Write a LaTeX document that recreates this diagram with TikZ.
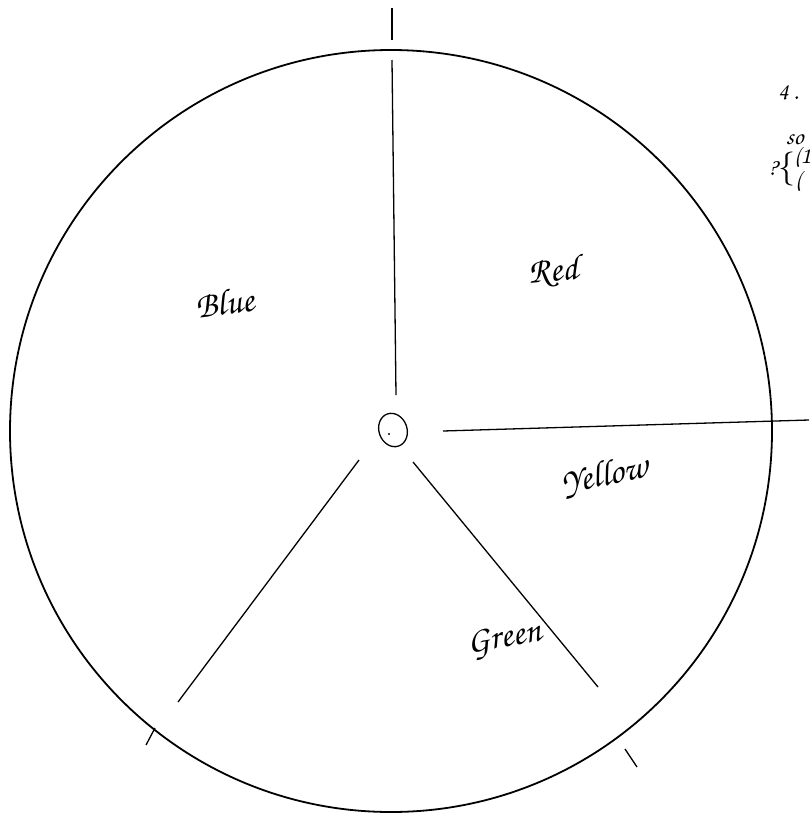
\documentclass[tikz,border=0pt]{standalone}
\usepackage[T1,TU]{fontenc}
\newcommand\handfont{\usefont{T1}{pzc}{mb}{it}}
\begin{document}
\begin{tikzpicture}[x=1pt,y=-1pt,
  rim/.style={line width=1.8pt},
  spoke/.style={line width=1.3pt},
  lbl/.style={font=\handfont\fontsize{36}{38}\selectfont, inner sep=0pt},
  note/.style={font=\handfont\fontsize{24}{24}\selectfont, inner sep=0pt, anchor=west}]
\useasboundingbox (0,0) rectangle (809,825);
% wheel
\coordinate (c) at (391,431);
\draw[rim] (c) circle (381);
% spokes
\coordinate (t1) at (392,60);  \coordinate (t2) at (396,395);
\draw[spoke] (t1) -- (t2);
\coordinate (tk1) at (392,8); \coordinate (tk2) at (392,40);
\draw[spoke] (tk1) -- (tk2);
\coordinate (r1) at (443,431); \coordinate (r2) at (809,420);
\draw[spoke] (r1) -- (r2);
\coordinate (l1) at (359,460); \coordinate (l2) at (178,702);
\draw[spoke] (l1) -- (l2);
\coordinate (lk1) at (155,728); \coordinate (lk2) at (146,745);
\draw[spoke] (lk1) -- (lk2);
\coordinate (b1) at (413,462); \coordinate (b2) at (598,687);
\draw[spoke] (b1) -- (b2);
\coordinate (bk1) at (625,749); \coordinate (bk2) at (637,767);
\draw[spoke] (bk1) -- (bk2);
% hub
\draw[line width=1.3pt, rotate around={20:(393,430)}] (393,430) ellipse [x radius=14, y radius=17];
\fill (389,434) circle (1.2);
% labels
\node[lbl, rotate=5] (red) at (553,272) {Red};
\node[lbl, rotate=8] (blue) at (225,302) {Blue};
\node[lbl, rotate=12] (yellow) at (605,476) {Yellow};
\node[lbl, rotate=10] (green) at (505,640) {Green};
% margin notes (cut off at right)
\node[note] (n1) at (778,93) {4\,.};
\node[note] (n2) at (786,140) {so};
\node[note] (n3) at (768,168) {?};
\node[note, font=\fontsize{34}{34}\selectfont] (n4) at (778,169) {\{};
\node[note] (n5) at (794,158) {(1};
\node[note] (n6) at (795,182) {(};
\end{tikzpicture}
\end{document}
